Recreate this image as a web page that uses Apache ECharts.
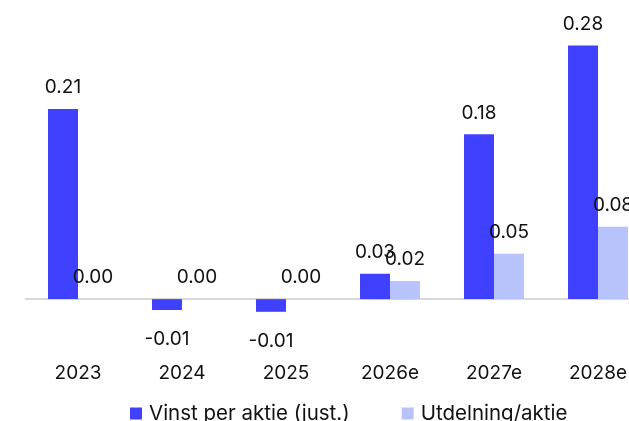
<!DOCTYPE html>
<html>
<head>
<meta charset="utf-8">
<script src="https://cdn.jsdelivr.net/npm/echarts@6/dist/echarts.min.js"></script>
<style>
html,body{margin:0;padding:0;background:#fff;}
#chart{width:629px;height:421px;}
</style>
</head>
<body>
<div id="chart"></div>
<script>
const categories = ['2023', '2024', '2025', '2026e', '2027e', '2028e'];
const epsValues = [0.21, -0.012, -0.014, 0.028, 0.182, 0.28];
const divValues = [0.0, 0.0, 0.0, 0.02, 0.05, 0.08];
const seriesNames = ['Vinst per aktie (just.)', 'Utdelning/aktie'];

const FONT = 'Inter';
const chart = echarts.init(document.getElementById('chart'), null, {renderer: 'canvas'});
const baseLabel = {
  show: true,
  distance: 12,
  color: '#111',
  fontFamily: FONT,
  fontSize: 19,
  formatter: p => p.value.toFixed(2)
};
function toData(arr) {
  return arr.map(v => ({value: v, label: v < 0 ? {position: 'bottom', distance: 20} : {position: 'top'}}));
}
chart.setOption({
  animation: false,
  textStyle: {fontFamily: FONT},
  grid: {left: 26, top: 27.5, width: 624, height: 335, containLabel: false, outerBoundsMode: 'none'},
  legend: {
    data: seriesNames,
    left: 125,
    top: 398,
    itemWidth: 12,
    itemHeight: 12,
    itemGap: 52,
    icon: 'rect',
    textStyle: {fontFamily: FONT, fontSize: 20.5, color: '#111', padding: [0, 0, 0, 2]}
  },
  xAxis: {
    type: 'category',
    data: categories,
    axisLine: {onZero: true, lineStyle: {color: '#d9d9d9', width: 2}},
    axisTick: {show: false},
    axisLabel: {margin: 1, fontFamily: FONT, fontSize: 19, color: '#111'}
  },
  yAxis: {
    type: 'value',
    min: -0.07,
    max: 0.3,
    show: false,
    splitLine: {show: false}
  },
  series: [
    {
      name: seriesNames[0],
      type: 'bar',
      data: toData(epsValues),
      barWidth: 30,
      barGap: '0%',
      itemStyle: {color: '#4040ff'},
      label: baseLabel
    },
    {
      name: seriesNames[1],
      type: 'bar',
      data: toData(divValues),
      barWidth: 30,
      itemStyle: {color: '#b9c3fb'},
      label: baseLabel
    }
  ]
});
</script>
</body>
</html>
